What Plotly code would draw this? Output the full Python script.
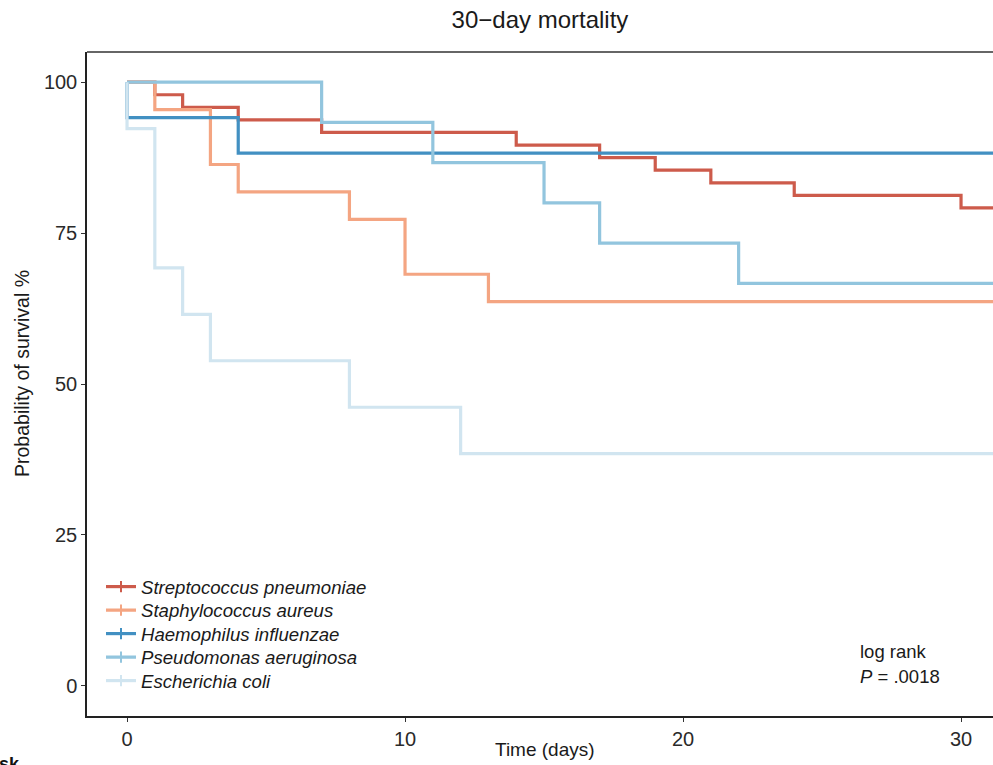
import plotly.graph_objects as go

# Kaplan-Meier survival estimates (%) by pathogen, step times in days
species = [
    "Streptococcus pneumoniae",
    "Staphylococcus aureus",
    "Haemophilus influenzae",
    "Pseudomonas aeruginosa",
    "Escherichia coli",
]
colors = ["#CD5B4B", "#F4A582", "#4290C2", "#92C5DE", "#D1E5F0"]

strep_t = [0, 1, 2, 4, 7, 14, 17, 19, 21, 24, 30, 31.5]
strep_s = [100, 97.92, 95.83, 93.75, 91.67, 89.58, 87.5, 85.42, 83.33, 81.25, 79.17, 79.17]

staph_t = [0, 1, 3, 4, 8, 10, 13, 31.5]
staph_s = [100, 95.45, 86.36, 81.82, 77.27, 68.18, 63.64, 63.64]

haem_t = [0, 0, 4, 31.5]
haem_s = [100, 94.12, 88.24, 88.24]

pseud_t = [0, 7, 11, 15, 17, 22, 31.5]
pseud_s = [100, 93.33, 86.67, 80.0, 73.33, 66.67, 66.67]

ecoli_t = [0, 0, 1, 2, 3, 8, 12, 31.5]
ecoli_s = [100, 92.31, 69.23, 61.54, 53.85, 46.15, 38.46, 38.46]

x_ticks = [0, 10, 20, 30]
y_ticks = [0, 25, 50, 75, 100]

times = [strep_t, staph_t, haem_t, pseud_t, ecoli_t]
surv = [strep_s, staph_s, haem_s, pseud_s, ecoli_s]

FONT = "Liberation Sans, Arial, sans-serif"
TXT = "#1a1a1a"

# plot panel in pixels
L, R, T, B = 87, 993, 52, 716
W, H = R - L, B - T


def px_x(px):
    return (px - L) / W


def px_y(py):
    return (B - py) / H


fig = go.Figure()

for name, c, t, s in zip(species, colors, times, surv):
    fig.add_trace(go.Scatter(
        x=t, y=s, mode="lines", line=dict(color=c, width=3.2, shape="hv"),
        name=name, legendgroup=name, showlegend=False, hoverinfo="skip",
    ))

# legend entries (line with a censor tick), one legend box per row for tight spacing
row_y = [587, 610.5, 634, 657.5, 681]
legend_ids = ["legend", "legend2", "legend3", "legend4", "legend5"]
legend_layout = {}
for name, c, lid, ry in zip(species, colors, legend_ids, row_y):
    fig.add_trace(go.Scatter(
        x=[None], y=[None], mode="lines+markers", name=name, legendgroup=name,
        legend=lid, line=dict(color=c, width=3.2),
        marker=dict(symbol="line-ns", size=8, color=c, line=dict(width=2, color=c)),
    ))
    legend_layout[lid] = dict(
        x=px_x(101), y=px_y(ry), xanchor="left", yanchor="middle",
        bgcolor="rgba(0,0,0,0)", itemwidth=30, tracegroupgap=0,
        font=dict(size=18.6, style="italic", color=TXT, family=FONT),
    )

fig.update_layout(
    width=993, height=765,
    margin=dict(l=L, r=993 - R, t=T, b=765 - B),
    paper_bgcolor="white", plot_bgcolor="white",
    font=dict(family=FONT, size=18, color=TXT),
    title=dict(text="30\u2212day mortality", x=0.5, xref="paper", xanchor="center",
               y=1 - 20 / 765, yref="container", yanchor="middle",
               font=dict(size=24, color=TXT, family=FONT)),
    showlegend=True,
    xaxis=dict(range=[-1.44, 31.15], tickvals=x_ticks, showgrid=False, zeroline=False,
               showline=True, linecolor="#222", linewidth=1.5,
               ticks="outside", ticklen=4, tickcolor="#333", tickwidth=1,
               tickfont=dict(size=20, color="#2a2a2a")),
    yaxis=dict(range=[-5, 105], tickvals=y_ticks, showgrid=False, zeroline=False,
               showline=True, linecolor="#222", linewidth=1.5,
               ticks="outside", ticklen=4, tickcolor="#333", tickwidth=1,
               tickfont=dict(size=20, color="#2a2a2a")),
    shapes=[dict(type="line", xref="paper", yref="paper", x0=0, x1=1, y0=1, y1=1,
                 line=dict(color="#333", width=1.5))],
    **legend_layout,
)

fig.add_annotation(text="Time (days)", xref="paper", yref="paper",
                   x=px_x(545), y=px_y(749), xanchor="center", yanchor="middle",
                   showarrow=False, font=dict(size=19, color=TXT))
fig.add_annotation(text="Probability of survival %", xref="paper", yref="paper",
                   x=px_x(22), y=px_y(374), xanchor="center", yanchor="middle", textangle=-90,
                   showarrow=False, font=dict(size=19.5, color=TXT))
fig.add_annotation(text="log rank", xref="paper", yref="paper",
                   x=px_x(858), y=px_y(651), xanchor="left", yanchor="middle",
                   showarrow=False, font=dict(size=18.5, color=TXT))
fig.add_annotation(text="<i>P</i> = .0018", xref="paper", yref="paper",
                   x=px_x(858), y=px_y(676), xanchor="left", yanchor="middle",
                   showarrow=False, font=dict(size=18.5, color=TXT))
# risk-table heading below the panel
fig.add_annotation(text="<b>Number at risk</b>", xref="paper", yref="paper",
                   x=px_x(22), y=px_y(752), xanchor="right", yanchor="top",
                   showarrow=False, font=dict(size=18, color="#111"))

fig.write_html("out.html")
